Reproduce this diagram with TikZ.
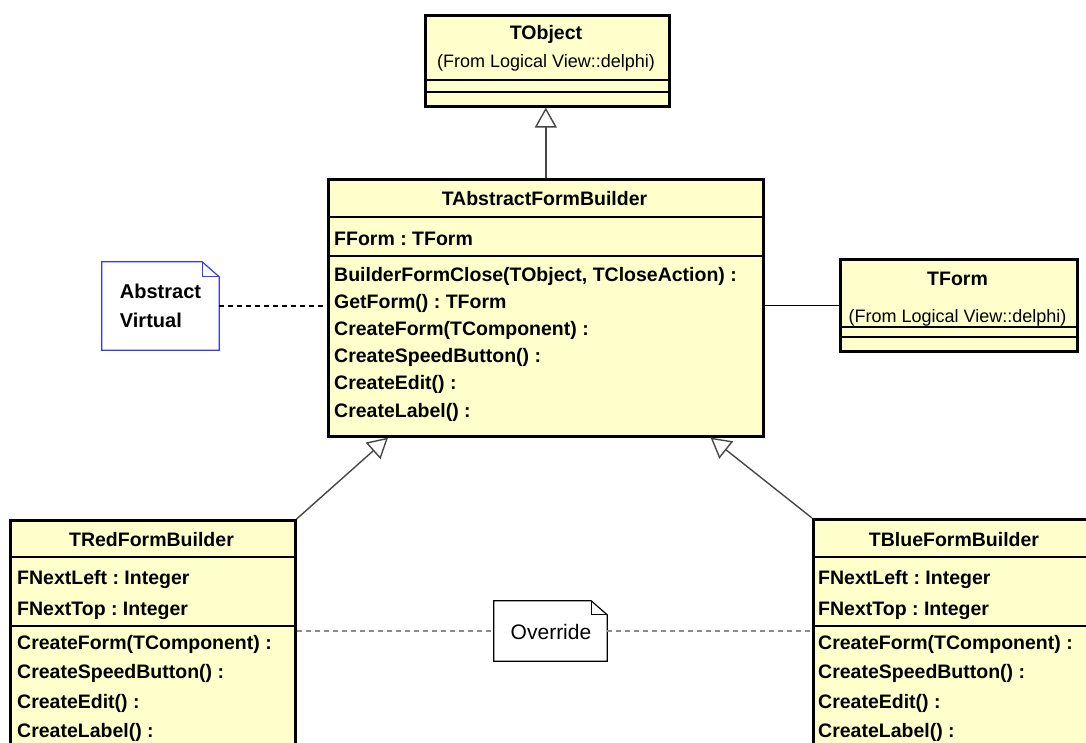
\documentclass[tikz,border=0pt]{standalone}
\usepackage{fontspec}
\setmainfont{Liberation Sans}
\usetikzlibrary{arrows.meta}
\definecolor{classfill}{HTML}{FFFFCC}
\definecolor{noteblue}{HTML}{3A3AF2}
\definecolor{linkgray}{HTML}{8C8C8C}
\frenchspacing

\begin{document}
\begin{tikzpicture}[x=1pt,y=-1pt,
  classbox/.style={draw=black, line width=2.6pt, fill=classfill, inner sep=0pt, anchor=north west},
  sepline/.style={line width=2.4pt},
  member/.style={inner sep=0pt, anchor=west, font=\fontsize{19.5}{20}\selectfont\bfseries, text height=14pt, text depth=0pt},
  classname/.style={member, anchor=center},
  origin/.style={inner sep=0pt, anchor=center, font=\fontsize{18}{20}\selectfont, text height=13pt, text depth=0pt},
  notebox/.style={inner sep=0pt, align=left},
  noteline/.style={line width=1.2pt},
  gen/.style={draw=black!72, line width=1.4pt, -{Triangle[open, fill=white, length=20pt, width=22pt, line width=1.4pt]}},
  assoc/.style={draw=black, line width=1.4pt},
  anchorlink/.style={line width=1.4pt, dash pattern=on 5pt off 4pt},
]
\useasboundingbox (0,0) rectangle (1086,742);
\clip (0,0) rectangle (1086,742);

% ---------- TObject ----------
\node[classbox, minimum width=244pt, minimum height=91pt] (tobj) at (424,14) {};
\node[classname] (tobjname) at (546,32) {TObject};
\node[origin] (tobjorig) at (546,61) {(From Logical View::delphi)};
\draw[sepline] (424,80) -- (668,80);
\draw[sepline] (424,92) -- (668,92);

% ---------- TAbstractFormBuilder ----------
\node[classbox, minimum width=435pt, minimum height=257pt] (abs) at (327,178) {};
\node[classname] (absname) at (544.5,198) {TAbstractFormBuilder};
\draw[sepline] (327,217) -- (762,217);
\node[member] (absf1) at (334,238) {FForm : TForm};
\draw[sepline] (327,256) -- (762,256);
\node[member] (absm1) at (334,274) {BuilderFormClose(TObject, TCloseAction) :};
\node[member] (absm2) at (334,301.2) {GetForm() : TForm};
\node[member] (absm3) at (334,328.4) {CreateForm(TComponent) :};
\node[member] (absm4) at (334,355.6) {CreateSpeedButton() :};
\node[member] (absm5) at (334,382.8) {CreateEdit() :};
\node[member] (absm6) at (334,410) {CreateLabel() :};

% ---------- TForm ----------
\node[classbox, minimum width=237pt, minimum height=92pt] (tform) at (839,258) {};
\node[classname] (tformname) at (957.5,278) {TForm};
\node[origin] (tformorig) at (957.5,316) {(From Logical View::delphi)};
\draw[sepline] (839,327) -- (1076,327);
\draw[sepline] (839,337) -- (1076,337);

% ---------- TRedFormBuilder ----------
\node[classbox, minimum width=285pt, minimum height=241pt] (tred) at (9,519) {};
\node[classname] (tredname) at (151.5,539) {TRedFormBuilder};
\draw[sepline] (9,557) -- (294,557);
\node[member] (tredf1) at (17,577) {FNextLeft : Integer};
\node[member] (tredf2) at (17,608) {FNextTop : Integer};
\draw[sepline] (9,626) -- (294,626);
\node[member] (tredm1) at (17,642) {CreateForm(TComponent) :};
\node[member] (tredm2) at (17,671.5) {CreateSpeedButton() :};
\node[member] (tredm3) at (17,701) {CreateEdit() :};
\node[member] (tredm4) at (17,730.5) {CreateLabel() :};

% ---------- TBlueFormBuilder ----------
\node[classbox, minimum width=284pt, minimum height=242pt] (tblue) at (812,518) {};
\node[classname] (tbluename) at (954,539) {TBlueFormBuilder};
\draw[sepline] (812,557) -- (1096,557);
\node[member] (tbluef1) at (818,577) {FNextLeft : Integer};
\node[member] (tbluef2) at (818,608) {FNextTop : Integer};
\draw[sepline] (812,626) -- (1096,626);
\node[member] (tbluem1) at (818,642) {CreateForm(TComponent) :};
\node[member] (tbluem2) at (818,671.5) {CreateSpeedButton() :};
\node[member] (tbluem3) at (818,701) {CreateEdit() :};
\node[member] (tbluem4) at (818,730.5) {CreateLabel() :};

% ---------- notes ----------
\node[notebox, minimum width=117pt, minimum height=88pt,
      font=\fontsize{20}{29}\selectfont\bfseries] (nav) at (160.5,306) {Abstract\\Virtual};
\draw[noteline, draw=noteblue, fill=white]
  (nav.north west) -- ([xshift=-17pt]nav.north east) -- ([yshift=-15pt]nav.north east)
  -- (nav.south east) -- (nav.south west) -- cycle;
\draw[noteline, draw=noteblue]
  ([xshift=-17pt]nav.north east) -- ([xshift=-17pt,yshift=-15pt]nav.north east)
  -- ([yshift=-15pt]nav.north east);
\node[notebox, font=\fontsize{20}{29}\selectfont\bfseries] at (nav) {Abstract\\Virtual};

\node[notebox, minimum width=113pt, minimum height=60pt,
      font=\fontsize{21}{24}\selectfont] (over) at (550.5,631) {};
\draw[noteline, draw=black, fill=white]
  (over.north west) -- ([xshift=-16pt]over.north east) -- ([yshift=-14pt]over.north east)
  -- (over.south east) -- (over.south west) -- cycle;
\draw[noteline, draw=black]
  ([xshift=-16pt]over.north east) -- ([xshift=-16pt,yshift=-14pt]over.north east)
  -- ([yshift=-14pt]over.north east);
\node[inner sep=0pt, font=\fontsize{21}{24}\selectfont, text height=15pt, text depth=0pt] (overtext) at (551,632) {Override};

% ---------- connectors ----------
\draw[gen] (abs.north) -- (abs.north |- tobj.south);
\draw[gen] (tred.north east) -- ([xshift=61pt]abs.south west);
\draw[gen] (tblue.north west) -- ([xshift=-54pt]abs.south east);
\draw[assoc] (tform.west -| abs.east) -- (tform.west);
\draw[anchorlink, draw=black] (nav.east) -- (nav.east -| abs.west);
\draw[anchorlink, draw=linkgray] (over.west -| tred.east) -- (over.west);
\draw[anchorlink, draw=linkgray] (over.east) -- (over.east -| tblue.west);
\end{tikzpicture}
\end{document}
